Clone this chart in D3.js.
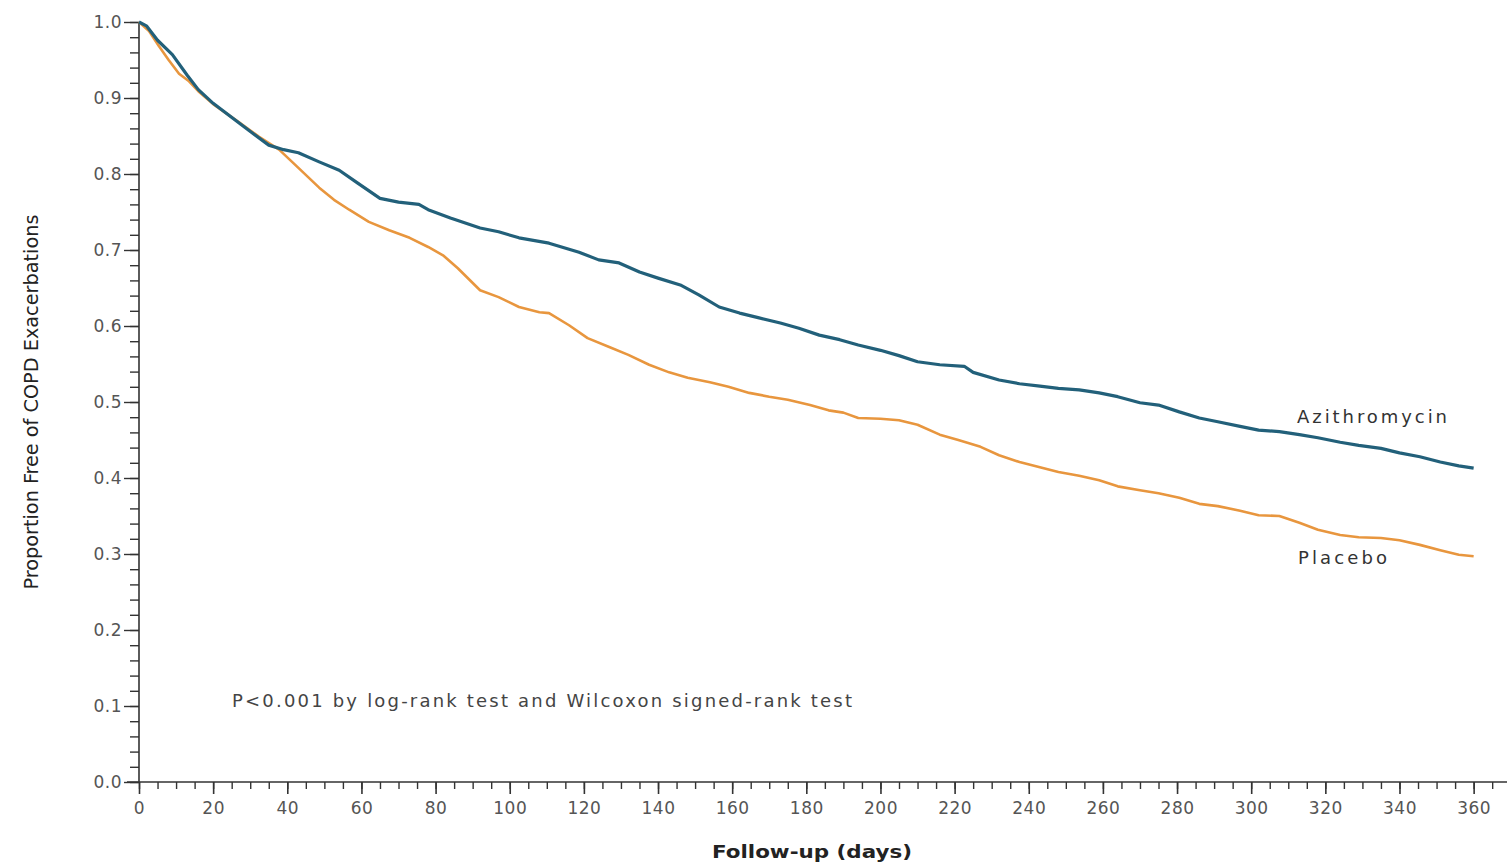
<!DOCTYPE html>
<html>
<head>
<meta charset="utf-8">
<script src="https://cdn.jsdelivr.net/npm/d3@7"></script>
<style>
  html, body { margin: 0; padding: 0; background: #fff; }
  svg { display: block; }
</style>
</head>
<body>
<svg id="chart" width="1507" height="862"></svg>
<script>
// ---- data ----
const azithroDays = [0, 2, 5, 9, 13, 16, 20, 27, 35, 39, 43, 48.6, 54, 59, 65, 70, 75.5, 78, 84, 92, 97, 102.5, 110.6, 118.7, 124, 129.5, 135, 140, 146, 151, 156.5, 162, 167, 173, 178, 183.5, 189, 194, 200, 205, 210, 216, 222.6, 225, 232, 237.5, 243, 248, 253.6, 259, 264, 270, 275, 280.6, 286, 291, 297, 302, 307.6, 313, 318, 324, 329, 335, 340, 345.5, 351, 356, 360];
const azithroValues = [1.0, 0.995, 0.976, 0.957, 0.93, 0.911, 0.893, 0.867, 0.838, 0.832, 0.828, 0.816, 0.805, 0.788, 0.768, 0.763, 0.76, 0.753, 0.742, 0.729, 0.724, 0.716, 0.709, 0.697, 0.687, 0.683, 0.671, 0.663, 0.654, 0.641, 0.625, 0.617, 0.611, 0.604, 0.597, 0.588, 0.582, 0.575, 0.568, 0.561, 0.553, 0.549, 0.547, 0.539, 0.529, 0.524, 0.521, 0.518, 0.516, 0.512, 0.507, 0.499, 0.496, 0.487, 0.479, 0.474, 0.468, 0.463, 0.461, 0.457, 0.453, 0.447, 0.443, 0.439, 0.433, 0.428, 0.421, 0.416, 0.413];

const placeboDays = [0, 2.7, 5.4, 8, 10.8, 13.5, 16, 20, 27, 32.4, 37.8, 43, 48.6, 52.6, 56.7, 62, 67.5, 73, 78, 82, 86, 92, 97, 102.5, 108, 110.6, 116, 121, 127, 132, 137.6, 143, 148, 154, 159, 164.6, 170, 175, 181, 186, 190, 194, 200, 205, 210, 216, 221, 227, 232, 237.5, 243, 248, 253.6, 259, 264, 270, 275, 280.6, 286, 291, 297, 302, 307.6, 313, 318, 324, 329, 335, 340, 345.5, 351, 356, 360];
const placeboValues = [1.0, 0.988, 0.968, 0.95, 0.932, 0.922, 0.909, 0.892, 0.868, 0.849, 0.832, 0.808, 0.782, 0.766, 0.753, 0.737, 0.726, 0.716, 0.704, 0.693, 0.676, 0.647, 0.638, 0.625, 0.618, 0.617, 0.601, 0.584, 0.572, 0.562, 0.549, 0.539, 0.532, 0.526, 0.52, 0.512, 0.507, 0.503, 0.496, 0.489, 0.486, 0.479, 0.478, 0.476, 0.47, 0.457, 0.45, 0.441, 0.43, 0.421, 0.414, 0.408, 0.403, 0.397, 0.389, 0.384, 0.38, 0.374, 0.366, 0.363, 0.357, 0.351, 0.35, 0.341, 0.332, 0.325, 0.322, 0.321, 0.318, 0.312, 0.305, 0.299, 0.297];

const xMajorTicks = d3.range(0, 361, 20);
const xMinorTicks = d3.range(0, 366, 5);
const yMajorTicks = d3.range(0, 11).map(d => d / 10);
const yMinorTicks = d3.range(0, 51).map(d => d / 50);

const seriesNames = ["Azithromycin", "Placebo"];
const annotationText = "P<0.001 by log-rank test and Wilcoxon signed-rank test";
const xTitle = "Follow-up (days)";
const yTitle = "Proportion Free of COPD Exacerbations";

// ---- layout ----
const svg = d3.select("#chart");
const x = d3.scaleLinear().domain([0, 369]).range([139, 1507]);
const y = d3.scaleLinear().domain([0, 1]).range([782, 22]);

const tickColor = "#333";
const labelColor = "#555";
const fontTicks = "'DejaVu Sans', Verdana, sans-serif";

// y axis: minor ticks
svg.append("g")
  .attr("transform", `translate(${x(0)},0)`)
  .call(d3.axisLeft(y).tickValues(yMinorTicks).tickSize(9).tickFormat(""))
  .call(g => g.select(".domain").remove())
  .call(g => g.selectAll("line").attr("stroke", tickColor).attr("stroke-width", 1.4));

// y axis: major ticks + labels
svg.append("g")
  .attr("transform", `translate(${x(0)},0)`)
  .call(d3.axisLeft(y).tickValues(yMajorTicks).tickSize(15).tickFormat(d3.format(".1f")))
  .call(g => g.select(".domain").attr("stroke", tickColor).attr("stroke-width", 1.6).attr("d", `M0,${y(0)}V${y(1)}`))
  .call(g => g.selectAll("line").attr("stroke", tickColor).attr("stroke-width", 1.4))
  .call(g => g.selectAll("text")
    .attr("fill", labelColor)
    .attr("font-family", fontTicks)
    .attr("font-size", 17)
    .attr("letter-spacing", 0.5)
    .attr("x", -17)
    .attr("dy", "0.32em"));

// x axis: minor ticks
svg.append("g")
  .attr("transform", `translate(0,${y(0)})`)
  .call(d3.axisBottom(x).tickValues(xMinorTicks).tickSize(7).tickFormat(""))
  .call(g => g.select(".domain").remove())
  .call(g => g.selectAll("line").attr("stroke", tickColor).attr("stroke-width", 1.4));

// x axis: major ticks + labels
svg.append("g")
  .attr("transform", `translate(0,${y(0)})`)
  .call(d3.axisBottom(x).tickValues(xMajorTicks).tickSize(12).tickFormat(d3.format("d")))
  .call(g => g.select(".domain").attr("stroke", tickColor).attr("stroke-width", 1.6).attr("d", `M127,0H1507`))
  .call(g => g.selectAll("line").attr("stroke", tickColor).attr("stroke-width", 1.6))
  .call(g => g.selectAll("text")
    .attr("fill", labelColor)
    .attr("font-family", fontTicks)
    .attr("font-size", 17)
    .attr("letter-spacing", 0.5)
    .attr("y", 20)
    .attr("dy", "0.71em"));

// curves
const line = d3.line()
  .x(d => x(d[0]))
  .y(d => y(d[1]))
  .curve(d3.curveLinear);

const placeboData = placeboDays.map((d, i) => [d, placeboValues[i]]);
const azithroData = azithroDays.map((d, i) => [d, azithroValues[i]]);

svg.append("path")
  .datum(placeboData)
  .attr("fill", "none")
  .attr("stroke", "#e8963e")
  .attr("stroke-width", 2.6)
  .attr("stroke-linejoin", "round")
  .attr("d", line);

svg.append("path")
  .datum(azithroData)
  .attr("fill", "none")
  .attr("stroke", "#22607a")
  .attr("stroke-width", 3.2)
  .attr("stroke-linejoin", "round")
  .attr("d", line);

// series labels
svg.append("text")
  .attr("x", 1297).attr("y", 423)
  .attr("font-family", fontTicks).attr("font-size", 18)
  .attr("fill", "#333")
  .attr("textLength", 150).attr("lengthAdjust", "spacing")
  .text(seriesNames[0]);

svg.append("text")
  .attr("x", 1298).attr("y", 564)
  .attr("font-family", fontTicks).attr("font-size", 18)
  .attr("fill", "#333")
  .attr("textLength", 89).attr("lengthAdjust", "spacing")
  .text(seriesNames[1]);

// annotation
svg.append("text")
  .attr("x", 232).attr("y", 707)
  .attr("font-family", fontTicks).attr("font-size", 18)
  .attr("fill", "#444")
  .attr("textLength", 620).attr("lengthAdjust", "spacing")
  .text(annotationText);

// axis titles
svg.append("text")
  .attr("x", 812).attr("y", 858)
  .attr("text-anchor", "middle")
  .attr("font-family", fontTicks).attr("font-size", 18)
  .attr("font-weight", "bold")
  .attr("fill", "#222")
  .attr("textLength", 200).attr("lengthAdjust", "spacingAndGlyphs")
  .text(xTitle);

svg.append("text")
  .attr("transform", "translate(38,402) rotate(-90)")
  .attr("text-anchor", "middle")
  .attr("font-family", "'DejaVu Sans Condensed', 'DejaVu Sans', sans-serif")
  .attr("font-size", 19)
  .attr("fill", "#222")
  .attr("textLength", 375).attr("lengthAdjust", "spacingAndGlyphs")
  .text(yTitle);
</script>
</body>
</html>
